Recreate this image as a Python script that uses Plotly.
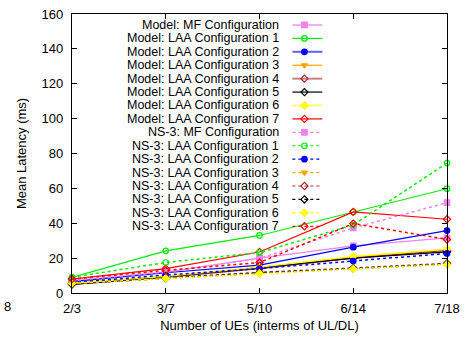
import plotly.graph_objects as go

categories = ["2/3", "3/7", "5/10", "6/14", "7/18"]
y_ticks = [0, 20, 40, 60, 80, 100, 120, 140, 160]

model_mf   = [7.0, 12.0, 20.0, 27.0, 31.6]
model_laa1 = [9.0, 24.2, 33.0, 46.5, 59.8]
model_laa2 = [6.5, 11.6, 16.0, 26.3, 35.8]
model_laa3 = [5.5, 9.5, 14.5, 20.8, 25.0]
model_laa4 = [5.0, 9.0, 14.0, 20.0, 24.5]
model_laa5 = [5.0, 9.3, 14.5, 20.0, 23.6]
model_laa6 = [5.5, 9.5, 14.8, 21.0, 25.0]
model_laa7 = [8.0, 14.0, 23.5, 46.5, 42.3]

ns3_mf   = [7.0, 12.0, 19.8, 37.3, 51.8]
ns3_laa1 = [9.0, 17.5, 23.2, 39.0, 74.5]
ns3_laa2 = [6.0, 10.3, 14.0, 18.3, 22.7]
ns3_laa3 = [5.5, 8.4, 11.6, 14.1, 16.6]
ns3_laa4 = [5.5, 8.6, 11.8, 14.3, 17.0]
ns3_laa5 = [5.3, 8.4, 11.5, 14.0, 16.6]
ns3_laa6 = [5.5, 8.4, 11.2, 13.8, 16.4]
ns3_laa7 = [8.0, 13.0, 17.5, 39.8, 30.7]

names = ["MF Configuration"] + [f"LAA Configuration {i}" for i in range(1, 8)]
colors = ["#ee82ee", "#00ee00", "#0000ff", "#ffa500", "#a52a2a", "#000000", "#ffff00", "#ff0000"]
legend_colors = ["#f0b0f0", "#00ee00", "#6060ff", "#ffa500", "#c88080", "#000000", "#ffff70", "#ff0000"]
symbols = ["square", "circle-open", "circle", "triangle-down", "diamond-open",
           "diamond-open", "diamond", "diamond-open"]
model_series = [model_mf, model_laa1, model_laa2, model_laa3, model_laa4, model_laa5, model_laa6, model_laa7]
ns3_series = [ns3_mf, ns3_laa1, ns3_laa2, ns3_laa3, ns3_laa4, ns3_laa5, ns3_laa6, ns3_laa7]

fig = go.Figure()
xs = list(range(len(categories)))

for i in range(8):
    fig.add_trace(go.Scatter(
        x=xs, y=model_series[i], mode="lines+markers", showlegend=False,
        line=dict(color=colors[i], width=1.2),
        marker=dict(symbol=symbols[i], size=5.5, color=colors[i], line=dict(color=colors[i], width=1.2)),
        cliponaxis=False))
for i in range(8):
    fig.add_trace(go.Scatter(
        x=xs, y=ns3_series[i], mode="lines+markers", showlegend=False,
        line=dict(color=colors[i], width=1.5, dash="dot"),
        marker=dict(symbol=symbols[i], size=5.5, color=colors[i], line=dict(color=colors[i], width=1.2)),
        cliponaxis=False))

# custom legend (gnuplot style: text right, sample on right)
L, R, T, B = 72, 460, 13, 293
def px(x):
    return (x - L) / (R - L)
def py(y):
    return (B - y) / (B - T)

labels = [f"Model: {n}" for n in names] + [f"NS-3: {n}" for n in names]
annotations = []
for k, lab in enumerate(labels):
    yr = 24 + k * 13.47
    i = k % 8
    dotted = k >= 8
    annotations.append(dict(text=lab, x=px(287), y=py(yr), xref="paper", yref="paper",
                            xanchor="right", yanchor="middle", showarrow=False, borderpad=0,
                            font=dict(size=12.5, color="black")))
    fig.add_trace(go.Scatter(
        x=[px(300), px(331)], y=[py(yr), py(yr)], mode="lines", xaxis="x2", yaxis="y2",
        showlegend=False, hoverinfo="skip",
        line=dict(color=legend_colors[i] if not dotted else colors[i],
                  width=(2 if not dotted and i in (0, 2, 4, 6) else 1.2), dash="dot" if dotted else "solid")))
    fig.add_trace(go.Scatter(
        x=[px(312.5)], y=[py(yr)], mode="markers", xaxis="x2", yaxis="y2",
        showlegend=False, hoverinfo="skip",
        marker=dict(symbol=symbols[i], size=5.5, color=colors[i], line=dict(color=colors[i], width=1.2))))

annotations.append(dict(text="8", x=px(5), y=py(307), xref="paper", yref="paper",
                        xanchor="center", yanchor="middle", showarrow=False,
                        font=dict(size=13, color="black")))

fig.update_layout(
    width=467, height=341,
    margin=dict(l=L, r=467 - R, t=T, b=341 - B),
    paper_bgcolor="white", plot_bgcolor="white",
    font=dict(family="Liberation Sans, Arial, sans-serif", size=13, color="black"),
    showlegend=False,
    annotations=annotations,
    xaxis=dict(range=[0, 4], tickmode="array", tickvals=xs, ticktext=categories,
               ticks="inside", ticklen=5, tickcolor="black", showline=True, linecolor="black",
               linewidth=1.2, mirror="allticks", showgrid=False, zeroline=False,
               ticklabeloverflow="allow",
               title=dict(text="Number of UEs (interms of UL/DL)", font=dict(size=13), standoff=6),
               ticklabelstandoff=3),
    yaxis=dict(range=[0, 160], tickmode="array", tickvals=y_ticks,
               ticks="inside", ticklen=5, tickcolor="black", showline=True, linecolor="black",
               linewidth=1.2, mirror="allticks", showgrid=False, zeroline=False,
               title=dict(text="Mean Latency (ms)", font=dict(size=13), standoff=12),
               ticklabelstandoff=5),
    xaxis2=dict(overlaying="x", range=[0, 1], visible=False),
    yaxis2=dict(overlaying="y", range=[0, 1], visible=False),
)

fig.write_html("out.html")
